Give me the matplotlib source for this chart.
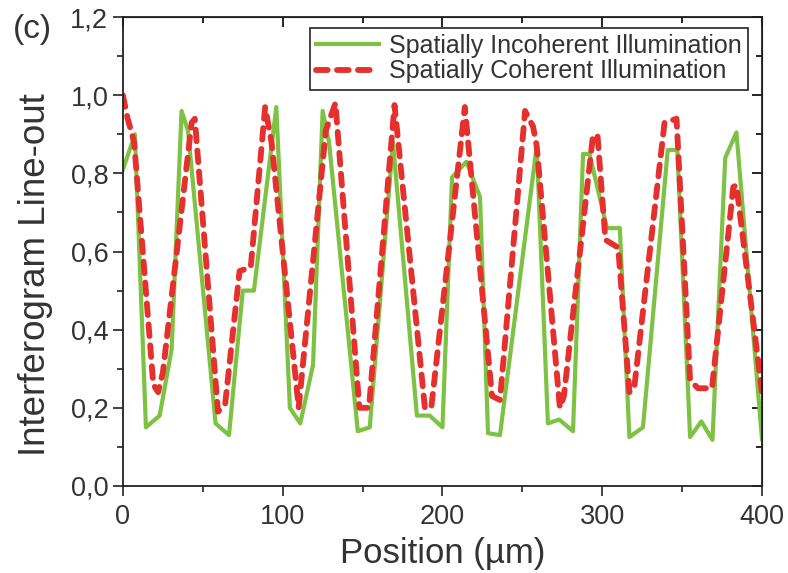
import numpy as np
import matplotlib
matplotlib.use("Agg")
import matplotlib.pyplot as plt
from matplotlib.ticker import MultipleLocator, FuncFormatter

plt.rcParams['font.family'] = ['Liberation Sans', 'DejaVu Sans']

# spatially incoherent illumination (green)
x_incoh = [0, 7.5, 14.4, 23, 30.5, 36.7, 40.7, 58, 66.4, 75, 82, 96, 104.5, 111, 119,
           125, 129, 147, 154.5, 169, 184, 192, 200, 206, 215, 223.5, 228.5, 236,
           259, 266, 273, 281.7, 288, 292, 303, 311, 317, 325.5, 341, 347, 355, 362,
           369, 377, 384, 400]
y_incoh = [0.81, 0.90, 0.15, 0.18, 0.35, 0.96, 0.91, 0.16, 0.13, 0.50, 0.50, 0.97, 0.20,
           0.16, 0.31, 0.96, 0.88, 0.14, 0.15, 0.88, 0.18, 0.18, 0.15, 0.79, 0.83, 0.74,
           0.135, 0.13, 0.87, 0.16, 0.17, 0.14, 0.85, 0.85, 0.66, 0.66, 0.125, 0.15,
           0.86, 0.86, 0.125, 0.165, 0.118, 0.84, 0.905, 0.12]

# spatially coherent illumination (red)
x_coh = [0, 3, 7, 19, 22, 25, 43, 45, 59.5, 64, 73, 80, 89, 93, 110, 127, 133, 148, 154,
         170, 189, 193, 214, 217, 231, 236, 251.7, 256.7, 259, 273.5, 276, 294, 297,
         302, 310, 317, 320, 339, 346.5, 355, 360, 368.7, 382, 384, 400]
y_coh = [1.0, 0.94, 0.88, 0.26, 0.24, 0.29, 0.93, 0.94, 0.19, 0.21, 0.55, 0.56, 0.97,
         0.88, 0.20, 0.91, 0.98, 0.20, 0.20, 0.975, 0.20, 0.20, 0.97, 0.84, 0.23, 0.22,
         0.96, 0.92, 0.87, 0.20, 0.23, 0.89, 0.90, 0.63, 0.61, 0.24, 0.25, 0.93, 0.94,
         0.27, 0.25, 0.25, 0.765, 0.77, 0.24]

fig = plt.figure(figsize=(7.88, 5.73), dpi=100)
ax = fig.add_axes([0.156, 0.152, 0.811, 0.818])

ax.plot(x_incoh, y_incoh, color='#7dc242', lw=3, label='Spatially Incoherent Illumination')
ax.plot(x_coh, y_coh, color='#e5302d', lw=4.2, dashes=(2.0, 1.6), dash_capstyle='round',
        label='Spatially Coherent Illumination')

ax.set_xlim(0, 400)
ax.set_ylim(0, 1.2)
ax.xaxis.set_major_locator(MultipleLocator(100))
ax.xaxis.set_minor_locator(MultipleLocator(50))
ax.yaxis.set_major_locator(MultipleLocator(0.2))
ax.yaxis.set_minor_locator(MultipleLocator(0.1))
ax.yaxis.set_major_formatter(FuncFormatter(lambda v, p: f"{v:.1f}".replace('.', ',')))

ax.tick_params(which='major', direction='out', length=7, width=1.2, labelsize=19.5,
               colors='#222222', labelcolor='#333333')
ax.tick_params(axis='x', which='major', pad=6)
ax.tick_params(which='minor', direction='out', length=4, width=1.2, colors='#222222')
for s in ax.spines.values():
    s.set_linewidth(1.3)
    s.set_color('#222222')

# mirrored inward ticks on top / right
top = ax.secondary_xaxis('top')
top.xaxis.set_major_locator(MultipleLocator(100))
top.xaxis.set_minor_locator(MultipleLocator(50))
top.tick_params(which='major', direction='in', length=7, width=1.2, labeltop=False)
top.tick_params(which='minor', direction='in', length=4, width=1.2)
right = ax.secondary_yaxis('right')
right.yaxis.set_major_locator(MultipleLocator(0.2))
right.yaxis.set_minor_locator(MultipleLocator(0.1))
right.tick_params(which='major', direction='in', length=7, width=1.2, labelright=False)
right.tick_params(which='minor', direction='in', length=4, width=1.2)

ax.set_xlabel('Position (µm)', fontsize=25, color='#333333', labelpad=5)
ax.set_ylabel('Interferogram Line-out', fontsize=26.5, color='#333333')
ax.yaxis.set_label_coords(-0.11, 0.45)

fig.text(0.016, 0.948, '(c)', fontsize=24, color='#333333', va='center')

leg = ax.legend(loc='upper right', bbox_to_anchor=(0.978, 0.977), borderaxespad=0,
                fancybox=False, edgecolor='#222222', framealpha=1, fontsize=18,
                handlelength=2.5, handletextpad=0.4, labelspacing=0.05, borderpad=0.25)
leg.get_frame().set_linewidth(1.2)
for t in leg.get_texts():
    t.set_color('#333333')

fig.savefig('out.png', dpi=100)
